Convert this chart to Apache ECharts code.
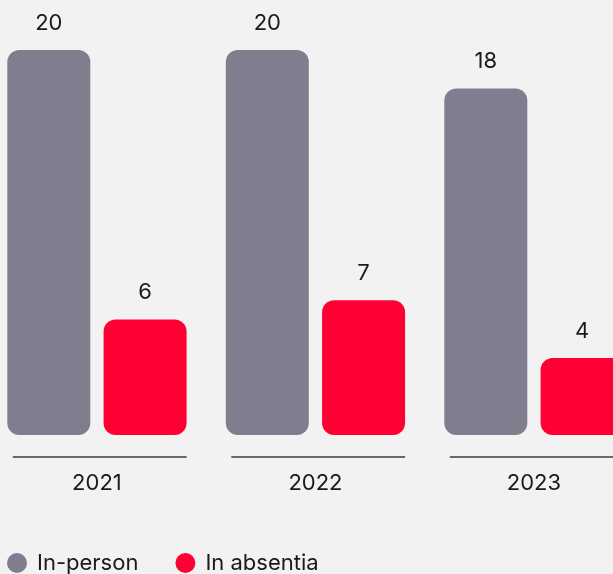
<!DOCTYPE html>
<html>
<head>
<meta charset="utf-8">
<style>
html,body{margin:0;padding:0;background:#f2f2f2;}
#c{width:613px;height:574px;}
</style>
<script src="https://cdn.jsdelivr.net/npm/echarts@6/dist/echarts.min.js"></script>
</head>
<body>
<div id="c"></div>
<script>
const categories = ['2021', '2022', '2023'];
const inPerson = [20, 20, 18];
const inAbsentia = [6, 7, 4];
const seriesNames = ['In-person', 'In absentia'];

const FONT = 'Inter';
const TXT = '#1a1a1a';
const BAR_W = 83;
const GAP_PCT = 16;

const chart = echarts.init(document.getElementById('c'), null, {renderer: 'canvas'});
chart.setOption({
  backgroundColor: '#f2f2f2',
  animation: false,
  grid: {left: -12.3, right: -30.2, top: 50, bottom: 139, outerBoundsMode: 'none', containLabel: false},
  xAxis: {
    type: 'category',
    data: categories,
    axisLine: {show: false},
    axisTick: {show: false},
    axisLabel: {color: TXT, fontFamily: FONT, fontSize: 22, margin: 37}
  },
  yAxis: {
    type: 'value', min: 0, max: 20,
    show: false,
    splitLine: {show: false}
  },
  legend: {
    data: seriesNames,
    left: 2, top: 547,
    icon: 'circle',
    itemWidth: 20, itemHeight: 20,
    itemGap: 37,
    textStyle: {color: TXT, fontFamily: FONT, fontSize: 22, padding: [0, 0, 0, 5]}
  },
  series: [
    {
      name: seriesNames[0], type: 'bar', data: inPerson,
      barWidth: BAR_W, barGap: GAP_PCT + '%',
      itemStyle: {color: '#7f7e8e', borderRadius: 12},
      label: {show: true, position: 'top', distance: 16, color: TXT, fontFamily: FONT, fontSize: 22}
    },
    {
      name: seriesNames[1], type: 'bar', data: inAbsentia,
      barWidth: BAR_W, barGap: GAP_PCT + '%',
      itemStyle: {color: '#ff0033', borderRadius: 12},
      label: {show: true, position: 'top', distance: 16, color: TXT, fontFamily: FONT, fontSize: 22}
    },
    {
      name: 'axis', type: 'custom', silent: true, clip: false,
      data: categories.map((c, i) => [i, 0]),
      renderItem: function (params, api) {
        const p = api.coord([api.value(0), 0]);
        const groupW = BAR_W * 2 + BAR_W * GAP_PCT / 100;
        const x1 = p[0] - groupW / 2 + 5.5;
        const x2 = p[0] + groupW / 2;
        const y = p[1] + 22;
        return {
          type: 'line',
          shape: {x1: x1, y1: y, x2: x2, y2: y},
          style: {stroke: '#3a3a3a', lineWidth: 1.5}
        };
      }
    }
  ]
});
</script>
</body>
</html>
